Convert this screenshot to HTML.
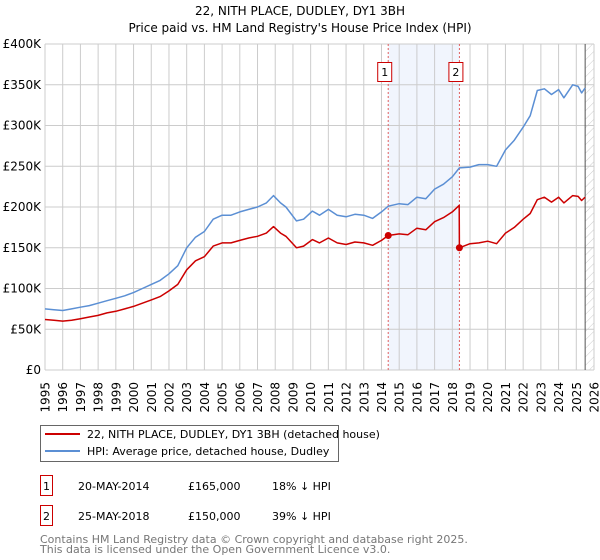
<!DOCTYPE html>
<html><head><meta charset="utf-8"><style>
body{margin:0;background:#fff;font-family:"DejaVu Sans","Liberation Sans",sans-serif;}
svg{display:block}
</style></head><body>
<svg width="600" height="560" xmlns="http://www.w3.org/2000/svg" font-family="DejaVu Sans, Liberation Sans, sans-serif">
<defs><pattern id="hatch" width="6" height="6" patternUnits="userSpaceOnUse" patternTransform="rotate(45)"><line x1="0" y1="0" x2="0" y2="6" stroke="#ccc" stroke-width="1"/></pattern></defs>
<text x="300" y="15" text-anchor="middle" font-size="12">22, NITH PLACE, DUDLEY, DY1 3BH</text>
<text x="300" y="32" text-anchor="middle" font-size="12">Price paid vs. HM Land Registry's House Price Index (HPI)</text>
<g id="plot"></g>
<g>
<rect x="40.5" y="425.5" width="298" height="36" fill="#fff" stroke="#666"/>
<line x1="45" y1="434" x2="80" y2="434" stroke="#cc0000" stroke-width="2"/>
<text x="87" y="438" font-size="11">22, NITH PLACE, DUDLEY, DY1 3BH (detached house)</text>
<line x1="45" y1="451" x2="80" y2="451" stroke="#5b8fd4" stroke-width="2"/>
<text x="87" y="455" font-size="11">HPI: Average price, detached house, Dudley</text>
</g>
<g font-size="11">
<rect x="40.5" y="475.5" width="12" height="20" fill="#fff" stroke="#cc0000"/>
<text x="46.5" y="490" text-anchor="middle">1</text>
<text x="78" y="490">20-MAY-2014</text><text x="188" y="490">£165,000</text><text x="272" y="490">18% ↓ HPI</text>
<rect x="40.5" y="505.5" width="12" height="20" fill="#fff" stroke="#cc0000"/>
<text x="46.5" y="520" text-anchor="middle">2</text>
<text x="78" y="520">25-MAY-2018</text><text x="188" y="520">£150,000</text><text x="272" y="520">39% ↓ HPI</text>
</g>
<text x="40" y="543" font-size="11" fill="#777">Contains HM Land Registry data © Crown copyright and database right 2025.</text>
<text x="40" y="553" font-size="11" fill="#777">This data is licensed under the Open Government Licence v3.0.</text>
</svg>
<script>
const hpiYears=[1995,1995.5,1996,1996.5,1997,1997.5,1998,1998.5,1999,1999.5,2000,2000.5,2001,2001.5,2002,2002.5,2003,2003.5,2004,2004.5,2005,2005.5,2006,2006.5,2007,2007.5,2007.9,2008.3,2008.6,2009.2,2009.6,2010.1,2010.5,2011,2011.5,2012,2012.5,2013,2013.5,2014,2014.38,2015,2015.5,2016,2016.5,2017,2017.5,2018,2018.4,2019,2019.5,2020,2020.5,2021,2021.5,2022,2022.4,2022.8,2023.2,2023.6,2024,2024.3,2024.8,2025.1,2025.3,2025.5];
const hpiValues=[75,74,73,75,77,79,82,85,88,91,95,100,105,110,118,128,150,163,170,185,190,190,194,197,200,205,214,205,200,183,185,195,190,197,190,188,191,190,186,194,201,204,203,212,210,222,228,237,248,249,252,252,250,270,282,298,312,343,345,338,344,334,350,348,340,346];
const priceYears=[1995,1995.5,1996,1996.5,1997,1997.5,1998,1998.5,1999,1999.5,2000,2000.5,2001,2001.5,2002,2002.5,2003,2003.5,2004,2004.5,2005,2005.5,2006,2006.5,2007,2007.5,2007.9,2008.3,2008.6,2009.2,2009.6,2010.1,2010.5,2011,2011.5,2012,2012.5,2013,2013.5,2014,2014.38,2015,2015.5,2016,2016.5,2017,2017.5,2018,2018.39,2018.4,2019,2019.5,2020,2020.5,2021,2021.5,2022,2022.4,2022.8,2023.2,2023.6,2024,2024.3,2024.8,2025.1,2025.3,2025.5];
const priceValues=[62,61,60,61,63,65,67,70,72,75,78,82,86,90,97,105,123,134,139,152,156,156,159,162,164,168,176,168,164,150,152,160,156,162,156,154,157,156,153,159,165,167,166,174,172,182,187,194,202,150,155,156,158,155,168,175,185,192,209,212,206,212,205,214,213,208,212];
const saleYears=[2014.38,2018.4];
const saleValues=[165,150];
const saleLabels=["1","2"];
const yTicks=[0,50,100,150,200,250,300,350,400];
const yTickLabels=["£0","£50K","£100K","£150K","£200K","£250K","£300K","£350K","£400K"];
const xTicks=[1995,1996,1997,1998,1999,2000,2001,2002,2003,2004,2005,2006,2007,2008,2009,2010,2011,2012,2013,2014,2015,2016,2017,2018,2019,2020,2021,2022,2023,2024,2025,2026];

const L=45,R=594,T=44,B=370;
const X=y=>L+(y-1995)/(2026-1995)*(R-L);
const Y=v=>B-v/400*(B-T);
const NS="http://www.w3.org/2000/svg";
const g=document.getElementById('plot');
function mk(tag,attrs,parent){const e=document.createElementNS(NS,tag);for(const k in attrs)e.setAttribute(k,attrs[k]);(parent||g).appendChild(e);return e;}

let sh=mk('rect',{x:X(saleYears[0]),y:T,width:X(saleYears[1])-X(saleYears[0]),height:B-T,fill:'#eef3fd',opacity:0.8});


let hz=mk('rect',{x:X(2025.5),y:T,width:R-X(2025.5),height:B-T,fill:'url(#hatch)'});


xTicks.forEach(t=>{
  let l=mk('line',{x1:X(t),x2:X(t),y1:T,y2:B,stroke:'#ccc','stroke-width':1});
  
  
  let tx=mk('text',{x:0,y:0,'font-size':12,'text-anchor':'end',transform:`translate(${X(t)+4.5},${B+12}) rotate(-90)`});
  tx.textContent=t;
  
  
});
yTicks.forEach((t,i)=>{
  let l=mk('line',{x1:L,x2:R,y1:Y(t),y2:Y(t),stroke:'#ccc','stroke-width':1});
  
  
  let tx=mk('text',{x:L-4,y:Y(t)+4,'font-size':12,'text-anchor':'end'});
  tx.textContent=yTickLabels[i];
  
  
});
let ed=mk('line',{x1:X(2025.5),x2:X(2025.5),y1:T,y2:B,stroke:'#555','stroke-width':1});


saleYears.forEach((s,i)=>{
  let l=mk('line',{x1:X(s),x2:X(s),y1:T,y2:B,stroke:'#e06060','stroke-width':1,'stroke-dasharray':'2,2'});
  
  
  let r=mk('rect',{x:X(s)-10.5,y:62.5,width:14,height:19,fill:'#fff',stroke:'#cc0000'});
  
  
  let t=mk('text',{x:X(s)-3.5,y:76,'font-size':11,'text-anchor':'middle'});
  t.textContent=saleLabels[i];
  
  
});
function line(xs,vs,col,name){
  const d=xs.map((x,i)=>(i?'L':'M')+X(x).toFixed(1)+','+Y(vs[i]).toFixed(1)).join('');
  let p=mk('path',{d:d,fill:'none',stroke:col,'stroke-width':1.5,'stroke-linejoin':'round'});
  
  
}
line(hpiYears,hpiValues,'#5b8fd4','hpi-line');
line(priceYears,priceValues,'#cc0000','price-line');
saleYears.forEach((s,i)=>{
  let c=mk('circle',{cx:X(s),cy:Y(saleValues[i]),r:3.5,fill:'#cc0000'});
  
  
});
</script>
</body></html>
